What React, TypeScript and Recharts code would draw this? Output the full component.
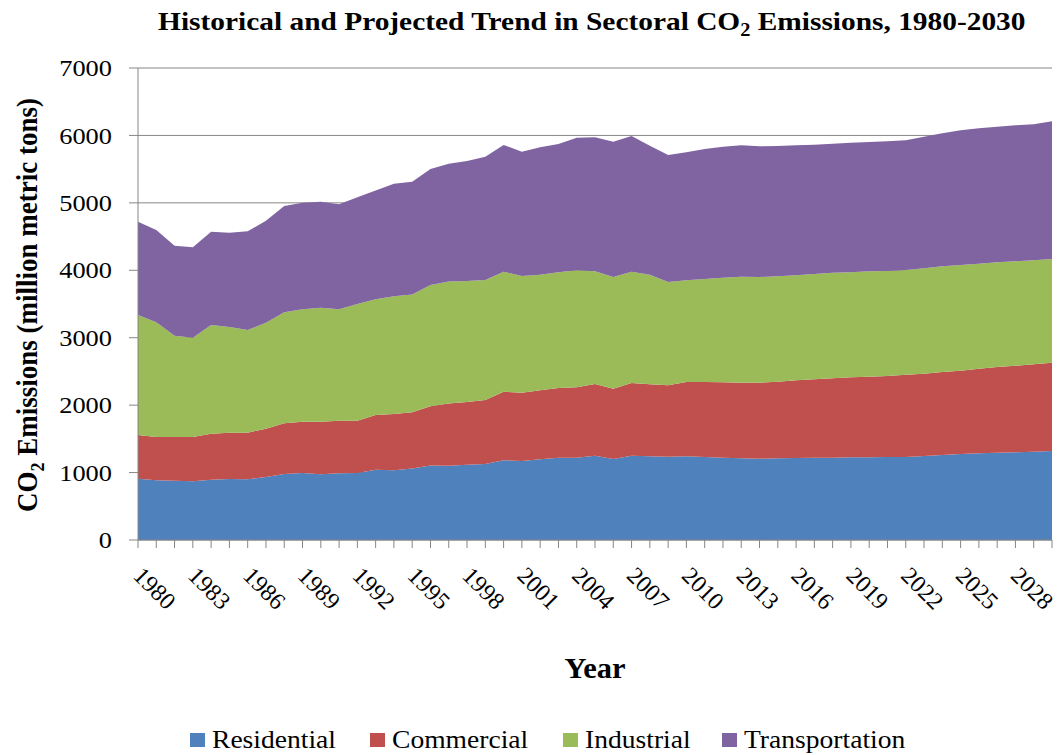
import React from 'react';
import { AreaChart, Area, XAxis, YAxis, CartesianGrid, Legend } from 'recharts';

// years on the category axis
const years = [
  1980, 1981, 1982, 1983, 1984, 1985, 1986, 1987, 1988, 1989,
  1990, 1991, 1992, 1993, 1994, 1995, 1996, 1997, 1998, 1999,
  2000, 2001, 2002, 2003, 2004, 2005, 2006, 2007, 2008, 2009,
  2010, 2011, 2012, 2013, 2014, 2015, 2016, 2017, 2018, 2019,
  2020, 2021, 2022, 2023, 2024, 2025, 2026, 2027, 2028, 2029, 2030,
];

// million metric tons (each sector on its own)
const residential = [
  910, 885, 880, 870, 895, 905, 900, 934, 979, 994,
  974, 989, 994, 1040, 1036, 1060, 1105, 1100, 1115, 1127,
  1182, 1172, 1197, 1221, 1221, 1251, 1201, 1251, 1241, 1236,
  1241, 1231, 1221, 1211, 1206, 1211, 1216, 1221, 1221, 1226,
  1226, 1231, 1231, 1246, 1260, 1275, 1285, 1295, 1300, 1310, 1320,
];
const commercial = [
  647, 642, 647, 657, 682, 687, 692, 717, 751, 761,
  781, 781, 776, 812, 834, 835, 880, 925, 932, 949,
  1018, 1013, 1023, 1033, 1043, 1062, 1043, 1077, 1068, 1058,
  1102, 1112, 1117, 1122, 1127, 1137, 1152, 1162, 1177, 1186,
  1196, 1201, 1221, 1220, 1231, 1236, 1256, 1271, 1285, 1295, 1310,
];
const industrial = [
  1780, 1701, 1503, 1473, 1611, 1567, 1522, 1572, 1646, 1666,
  1690, 1651, 1730, 1718, 1745, 1745, 1795, 1810, 1793, 1780,
  1779, 1730, 1715, 1716, 1736, 1672, 1656, 1651, 1626, 1532,
  1508, 1528, 1552, 1572, 1567, 1562, 1557, 1562, 1567, 1558,
  1563, 1558, 1552, 1563, 1568, 1567, 1557, 1552, 1548, 1542, 1537,
];
const transportation = [
  1383, 1369, 1335, 1341, 1385, 1399, 1464, 1513, 1577, 1582,
  1573, 1557, 1582, 1615, 1669, 1674, 1722, 1745, 1781, 1829,
  1879, 1844, 1888, 1903, 1966, 1987, 2007, 2012, 1913, 1884,
  1899, 1928, 1943, 1948, 1940, 1933, 1930, 1918, 1912, 1922,
  1917, 1922, 1923, 1952, 1972, 1997, 2007, 2012, 2017, 2018, 2042,
];

const yTicks = [0, 1000, 2000, 3000, 4000, 5000, 6000, 7000];

const series = [
  { key: 'Residential', values: residential, color: '#4F81BD' },
  { key: 'Commercial', values: commercial, color: '#C0504D' },
  { key: 'Industrial', values: industrial, color: '#9BBB59' },
  { key: 'Transportation', values: transportation, color: '#8064A2' },
];

const data = years.map((year, i) => {
  const row: Record<string, number> = { year };
  series.forEach(s => { row[s.key] = s.values[i]; });
  return row;
});

const FONT = '"Liberation Serif", "Times New Roman", serif';
const GRAY = '#868686';

// every year gets a tick mark, every third year a rotated label
function YearTick(props: any) {
  const { x, y, payload } = props;
  const yr = Number(payload.value);
  const tx = x - 6;
  const ty = y + 37;
  return (
    <g>
      <line x1={x} y1={y} x2={x} y2={y + 8} stroke={GRAY} strokeWidth={1} />
      {(yr - 1980) % 3 === 0 && (
        <text
          x={tx}
          y={ty}
          transform={`rotate(45, ${tx}, ${ty})`}
          textAnchor="start"
          fontFamily={FONT}
          fontSize={24}
          fill="#000"
        >
          {yr}
        </text>
      )}
    </g>
  );
}

function ValueTick(props: any) {
  const { x, y, payload } = props;
  return (
    <text
      transform={`translate(${x}, ${y}) scale(1.1, 1)`}
      textAnchor="end"
      dominantBaseline="central"
      fontFamily={FONT}
      fontSize={24}
      fill="#000"
    >
      {payload.value}
    </text>
  );
}

function YLabel() {
  return (
    <text
      transform="translate(37, 305) rotate(-90) scale(1, 1.1)"
      textAnchor="middle"
      fontFamily={FONT}
      fontWeight="bold"
      fontSize={27}
      fill="#000"
    >
      <tspan>CO</tspan>
      <tspan fontSize={18} dy={6}>2</tspan>
      <tspan dy={-6}> Emissions (million metric tons)</tspan>
    </text>
  );
}

function XLabel() {
  return (
    <text
      transform="translate(595, 678) scale(1.05, 1)"
      textAnchor="middle"
      fontFamily={FONT}
      fontWeight="bold"
      fontSize={29}
      fill="#000"
    >
      Year
    </text>
  );
}

const legendLeft = [190, 370, 563, 722];

function LegendRow() {
  return (
    <div style={{ position: 'relative', height: 30, fontFamily: FONT, fontSize: 26, color: '#000' }}>
      {series.map((s, i) => (
        <div
          key={s.key}
          style={{ position: 'absolute', left: legendLeft[i], top: 0, height: 30, display: 'flex', alignItems: 'center', whiteSpace: 'nowrap' }}
        >
          <span style={{ width: 15, height: 14, background: s.color, marginRight: 7, display: 'inline-block' }} />
          <span style={{ display: 'inline-block', transform: 'scaleX(1.06)', transformOrigin: 'left center', lineHeight: '30px' }}>{s.key}</span>
        </div>
      ))}
    </div>
  );
}

export default function App() {
  return (
    <div style={{ position: 'absolute', left: 0, top: 0, width: 1058, height: 755, background: '#fff' }}>
      <div
        style={{
          position: 'absolute', left: 0, top: 6, width: 1058, paddingLeft: 126,
          textAlign: 'center', fontFamily: FONT, fontWeight: 'bold', fontSize: 26, color: '#000',
          boxSizing: 'border-box', lineHeight: '32px',
        }}
      >
        <span style={{ display: 'inline-block', transform: 'scaleX(1.13)' }}>
          Historical and Projected Trend in Sectoral CO<sub style={{ fontSize: 18, lineHeight: 0 }}>2</sub> Emissions, 1980-2030
        </span>
      </div>
      <AreaChart
        width={1058}
        height={755}
        data={data}
        margin={{ top: 68, right: 6, bottom: 0, left: 0 }}
      >
        <CartesianGrid vertical={false} stroke={GRAY} strokeWidth={1} />
        <XAxis
          dataKey="year"
          interval={0}
          tick={<YearTick />}
          tickLine={false}
          tickSize={0}
          tickMargin={0}
          axisLine={{ stroke: GRAY }}
          height={185}
          label={<XLabel />}
        />
        <YAxis
          domain={[0, 7000]}
          ticks={yTicks}
          width={138}
          tickSize={9}
          tickMargin={17}
          tickLine={{ stroke: GRAY }}
          axisLine={{ stroke: GRAY }}
          tick={<ValueTick />}
          label={<YLabel />}
        />
        {series.map(s => (
          <Area
            key={s.key}
            type="linear"
            dataKey={s.key}
            stackId="1"
            stroke="none"
            fill={s.color}
            fillOpacity={1}
            dot={false}
            activeDot={false}
            isAnimationActive={false}
          />
        ))}
        <Legend verticalAlign="bottom" content={<LegendRow />} wrapperStyle={{ left: 0, width: 1058 }} />
      </AreaChart>
    </div>
  );
}
